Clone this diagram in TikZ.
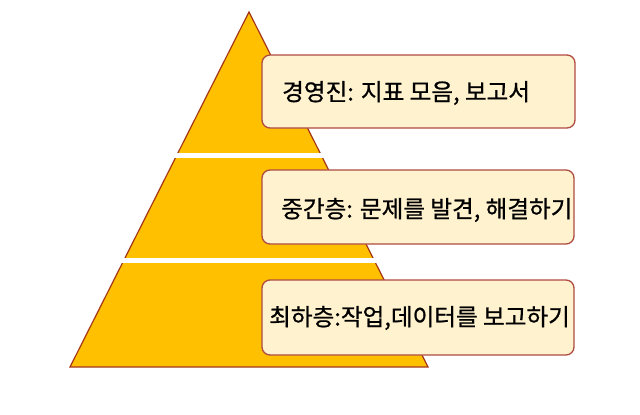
\documentclass[tikz,border=0pt]{standalone}
\usepackage{fontspec}
\newfontfamily\kr[FakeBold=0.8]{Noto Sans CJK KR}
\definecolor{gold}{RGB}{255,192,0}
\definecolor{edge}{RGB}{165,55,25}
\definecolor{cream}{RGB}{255,242,206}
\definecolor{boxedge}{RGB}{175,75,65}
\begin{document}
\begin{tikzpicture}[x=1pt,y=-1pt,
  levelbox/.style={draw=boxedge,line width=1.3pt,fill=cream,rounded corners=8pt,
    rectangle,inner sep=0pt},
  label/.style={anchor=west,inner sep=0pt,font=\kr\fontsize{23.6}{26}\selectfont,text=black},
  gap/.style={fill=white,draw=none}]
\useasboundingbox (0,0) rectangle (640,415);
\coordinate (apex) at (249,12);
\coordinate (bl) at (70,367);
\coordinate (br) at (428,367);
\draw[edge,line width=1.2pt,fill=gold,line join=miter] (apex) -- (bl) -- (br) -- cycle;
\fill[white] (55,153) rectangle (445,157.5);
\fill[white] (55,258) rectangle (445,263);
\node[levelbox,minimum width=313pt,minimum height=73pt] (b1) at (418.5,91.5) {};
\node[levelbox,minimum width=312pt,minimum height=74pt] (b2) at (418,207) {};
\node[levelbox,minimum width=312pt,minimum height=75pt] (b3) at (418,317.5) {};
\node[label] (t1) at (282,93) {경영진: 지표 모음, 보고서};
\node[label] (t2) at (281,210) {중간층: 문제를 발견, 해결하기};
\node[label] (t3) at (269,318) {최하층:작업,데이터를 보고하기};
\end{tikzpicture}
\end{document}
